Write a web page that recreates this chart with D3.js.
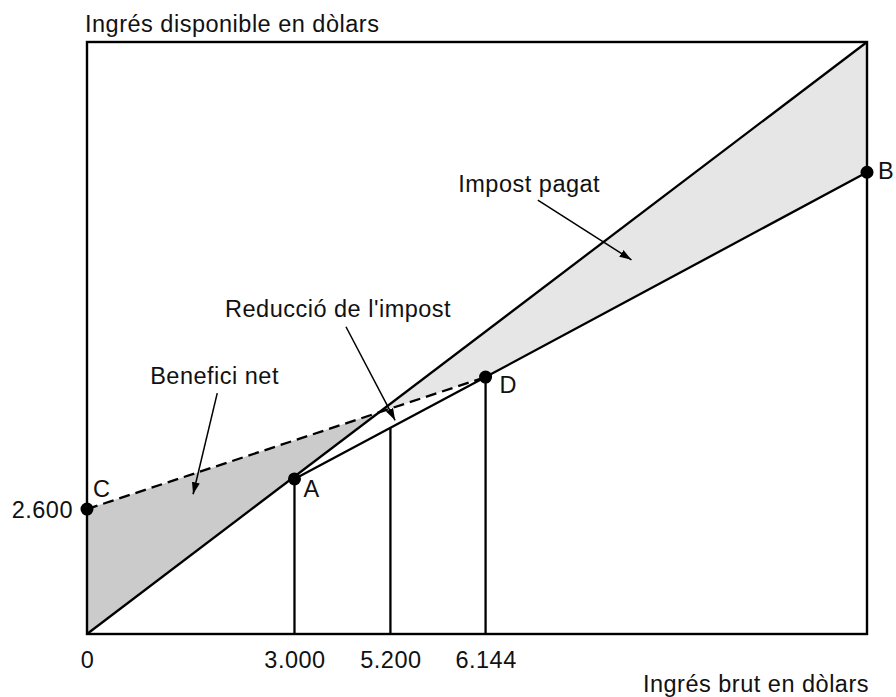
<!DOCTYPE html>
<html>
<head>
<meta charset="utf-8">
<script src="https://cdn.jsdelivr.net/npm/d3@7"></script>
<style>
  body { margin: 0; background: #fff; }
  svg text { font-family: 'Liberation Sans', Arial, Helvetica, sans-serif; font-size: 23.5px; letter-spacing: 0.5px; fill: #111; }
</style>
</head>
<body>
<div id="chart"></div>
<script>
// schematic units: frame spans 0..100 on both axes
const xTicks = [0, 26.6, 38.9, 51.1];
const xTickLabels = ['0', '3.000', '5.200', '6.144'];
const yTicks = [21.1];
const yTickLabels = ['2.600'];

const pointNames = ['A', 'B', 'C', 'D'];
const pointX = [26.6, 100, 0, 51.1];
const pointY = [26.2, 78, 21.1, 43.4];

// crossing of the dashed line with the 45 degree line
const crossX = 37.4, crossY = 37.4;
// top of the 5.200 drop line
const midTopY = 34.8;

const labelNames = ['Benefici net', "Reducció de l'impost", 'Impost pagat'];
const labelX = [8.1, 17.7, 47.6];
const labelY = [42.2, 53.5, 74.7];
const arrowFrom = [[16.7, 40.7], [33.2, 51.9], [57.8, 73.3]];
const arrowTo = [[13.6, 23.6], [39.5, 36.1], [69.8, 63.2]];

const width = 896, height = 697;
const margin = { top: 42, right: 29, bottom: 63, left: 87 };
const w = width - margin.left - margin.right,
  h = height - margin.top - margin.bottom;

const svg = d3.select('#chart').append('svg')
  .attr('width', width)
  .attr('height', height);

const defs = svg.append('defs');
defs.append('marker')
  .attr('id', 'arrow')
  .attr('viewBox', '0 0 12 8')
  .attr('refX', 12)
  .attr('refY', 4)
  .attr('markerWidth', 12)
  .attr('markerHeight', 8)
  .attr('markerUnits', 'userSpaceOnUse')
  .attr('orient', 'auto')
  .append('path')
  .attr('d', 'M0,0L12,4L0,8Z')
  .attr('fill', '#000');

const g = svg.append('g')
  .attr('transform', 'translate(' + margin.left + ',' + margin.top + ')');

const x = d3.scaleLinear().domain([0, 100]).range([0, w]);
const y = d3.scaleLinear().domain([0, 100]).range([h, 0]);

const line = d3.line().x(d => x(d[0])).y(d => y(d[1]));

const pt = i => [pointX[i], pointY[i]];
const A = pt(0), B = pt(1), C = pt(2), D = pt(3);

// shaded areas
g.append('path')
  .attr('d', line([C, [crossX, crossY], [0, 0]]) + 'Z')
  .attr('fill', '#cbcbcb');

g.append('path')
  .attr('d', line([[crossX, crossY], [100, 100], B, D]) + 'Z')
  .attr('fill', '#e6e6e6');

// 45 degree line
g.append('path')
  .attr('d', line([[0, 0], [100, 100]]))
  .attr('fill', 'none')
  .attr('stroke', '#000')
  .attr('stroke-width', 2.3);

// A - D - B
g.append('path')
  .attr('d', line([A, D, B]))
  .attr('fill', 'none')
  .attr('stroke', '#000')
  .attr('stroke-width', 2.3);

// dashed C - D
g.append('path')
  .attr('d', line([C, D]))
  .attr('fill', 'none')
  .attr('stroke', '#000')
  .attr('stroke-width', 2.3)
  .attr('stroke-dasharray', '11,6');

// drop lines
const drops = [[A[0], A[1]], [xTicks[2], midTopY], [D[0], D[1]]];
g.selectAll('.drop')
  .data(drops)
  .enter()
  .append('line')
  .attr('class', 'drop')
  .attr('x1', d => x(d[0]))
  .attr('x2', d => x(d[0]))
  .attr('y1', d => y(d[1]))
  .attr('y2', y(0))
  .attr('stroke', '#000')
  .attr('stroke-width', 2.3);

// frame
g.append('rect')
  .attr('x', 0)
  .attr('y', 0)
  .attr('width', w)
  .attr('height', h)
  .attr('fill', 'none')
  .attr('stroke', '#000')
  .attr('stroke-width', 2.4);

// axes (labels only)
const xAxis = d3.axisBottom(x)
  .tickValues(xTicks)
  .tickFormat((d, i) => xTickLabels[i])
  .tickSize(0)
  .tickPadding(0);
const xg = g.append('g')
  .attr('transform', 'translate(0,' + h + ')')
  .call(xAxis);
xg.select('.domain').remove();
xg.selectAll('text')
  .attr('y', 34)
  .attr('dy', 0)
  .attr('fill', '#111');
xg.attr('font-size', null).attr('font-family', null);

const yAxis = d3.axisLeft(y)
  .tickValues(yTicks)
  .tickFormat((d, i) => yTickLabels[i])
  .tickSize(0)
  .tickPadding(14);
const yg = g.append('g').call(yAxis);
yg.select('.domain').remove();
yg.selectAll('text')
  .attr('dy', '0.35em')
  .attr('fill', '#111');
yg.attr('font-size', null).attr('font-family', null);

// axis titles
g.append('text')
  .attr('x', -2)
  .attr('y', -10)
  .text('Ingrés disponible en dòlars');

g.append('text')
  .attr('x', w + 2)
  .attr('y', h + 58)
  .attr('text-anchor', 'end')
  .text('Ingrés brut en dòlars');

// points
g.selectAll('.pt')
  .data(pointNames)
  .enter()
  .append('circle')
  .attr('class', 'pt')
  .attr('cx', (d, i) => x(pointX[i]))
  .attr('cy', (d, i) => y(pointY[i]))
  .attr('r', 6.5)
  .attr('fill', '#000');

const labelOffset = { A: [9, 18], B: [11, 7], C: [6, -12], D: [14, 16] };
g.selectAll('.ptlabel')
  .data(pointNames)
  .enter()
  .append('text')
  .attr('class', 'ptlabel')
  .attr('x', (d, i) => x(pointX[i]) + labelOffset[d][0])
  .attr('y', (d, i) => y(pointY[i]) + labelOffset[d][1])
  .text(d => d);

// annotations
g.selectAll('.note')
  .data(labelNames)
  .enter()
  .append('text')
  .attr('class', 'note')
  .attr('x', (d, i) => x(labelX[i]))
  .attr('y', (d, i) => y(labelY[i]))
  .text(d => d);

g.selectAll('.arrow')
  .data(arrowFrom)
  .enter()
  .append('line')
  .attr('class', 'arrow')
  .attr('x1', d => x(d[0]))
  .attr('y1', d => y(d[1]))
  .attr('x2', (d, i) => x(arrowTo[i][0]))
  .attr('y2', (d, i) => y(arrowTo[i][1]))
  .attr('stroke', '#000')
  .attr('stroke-width', 1.5)
  .attr('marker-end', 'url(#arrow)');
</script>
</body>
</html>
